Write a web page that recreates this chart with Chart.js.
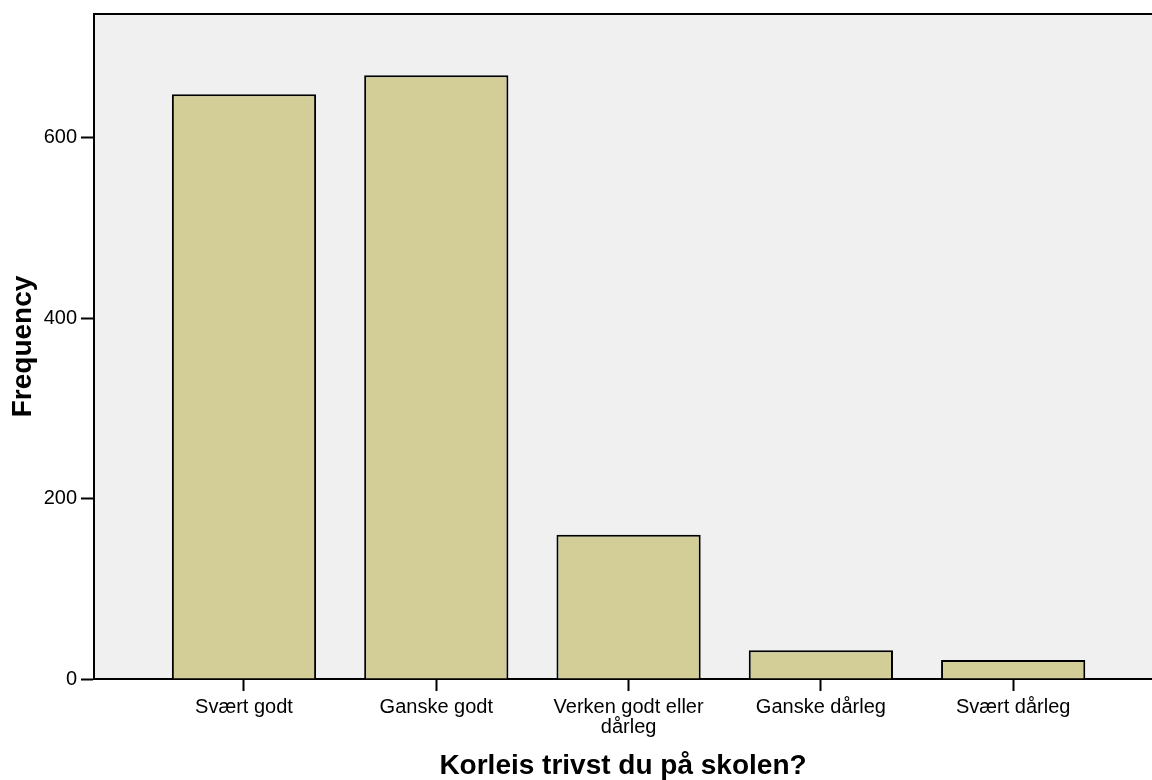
<!DOCTYPE html>
<html>
<head>
<meta charset="utf-8">
<script src="https://cdn.jsdelivr.net/npm/chart.js@4/dist/chart.umd.min.js"></script>
<style>
  body { margin: 0; background: #fff; }
</style>
</head>
<body>
<canvas id="chart_trivsel" width="1152" height="780"></canvas>
<script>
var categories = ["Svært godt", "Ganske godt", ["Verken godt eller", "dårleg"], "Ganske dårleg", "Svært dårleg"];
var positions = [1, 2, 3, 4, 5];
var frequency = [648, 669, 160, 32, 21];
var yTicks = [0, 200, 400, 600];

/* bakgrunn + toppkant for plottområdet */
var plotArea = {
  id: 'plotArea',
  beforeDraw: function (chart) {
    var a = chart.chartArea, ctx = chart.ctx;
    ctx.save();
    ctx.fillStyle = '#F0F0F0';
    ctx.fillRect(a.left, a.top, a.right - a.left, a.bottom - a.top);
    ctx.restore();
  },
  afterDraw: function (chart) {
    var a = chart.chartArea, ctx = chart.ctx;
    ctx.save();
    ctx.strokeStyle = '#000';
    ctx.lineWidth = 2;
    ctx.beginPath();
    ctx.moveTo(a.left - 1, a.top);
    ctx.lineTo(a.right, a.top);
    ctx.stroke();
    ctx.restore();
  }
};

var ctx = document.getElementById('chart_trivsel').getContext('2d');
var myChart = new Chart(ctx, {
  type: 'bar',
  data: {
    datasets: [{
      label: 'Frequency',
      data: positions.map(function (p, i) { return {x: p, y: frequency[i]}; }),
      backgroundColor: '#D3CE98',
      borderColor: '#000',
      borderWidth: 2,
      barPercentage: 0.75,
      categoryPercentage: 1
    }]
  },
  plugins: [plotArea],
  options: {
    responsive: false,
    animation: false,
    layout: { padding: { top: 14, right: 0, left: 0, bottom: 0 } },
    plugins: { legend: { display: false }, tooltip: { enabled: false } },
    scales: {
      x: {
        type: 'linear',
        min: 0.22,
        max: 5.722,
        offset: false,
        afterBuildTicks: function (scale) {
          scale.ticks = positions.map(function (p) { return {value: p}; });
        },
        afterFit: function (scale) { scale.height = 101; },
        ticks: {
          color: '#000',
          font: { family: '"Liberation Sans", Arial, sans-serif', size: 20, lineHeight: 1 },
          padding: 6,
          maxRotation: 0,
          autoSkip: false,
          callback: function (v) { return categories[v - 1]; }
        },
        grid: { offset: false, drawOnChartArea: false, tickLength: 12, tickColor: '#000', tickWidth: 2 },
        border: { color: '#000', width: 2 },
        title: {
          display: true,
          text: 'Korleis trivst du på skolen?',
          color: '#000',
          font: { family: '"Liberation Sans", Arial, sans-serif', size: 28, weight: 'bold', lineHeight: 1 },
          padding: { top: 0, bottom: 0 }
        }
      },
      y: {
        min: 0,
        max: 737,
        afterBuildTicks: function (scale) {
          scale.ticks = yTicks.map(function (v) { return {value: v}; });
        },
        afterFit: function (scale) { scale.width = 94; },
        ticks: {
          color: '#000',
          font: { family: '"Liberation Sans", Arial, sans-serif', size: 20, lineHeight: 1 },
          padding: 4
        },
        grid: { drawOnChartArea: false, tickLength: 13, tickColor: '#000', tickWidth: 2 },
        border: { color: '#000', width: 2 },
        title: {
          display: true,
          text: 'Frequency',
          color: '#000',
          font: { family: '"Liberation Sans", Arial, sans-serif', size: 28, weight: 'bold', lineHeight: 1 },
          padding: { top: 9, bottom: 0 }
        }
      }
    }
  }
});
</script>
</body>
</html>
